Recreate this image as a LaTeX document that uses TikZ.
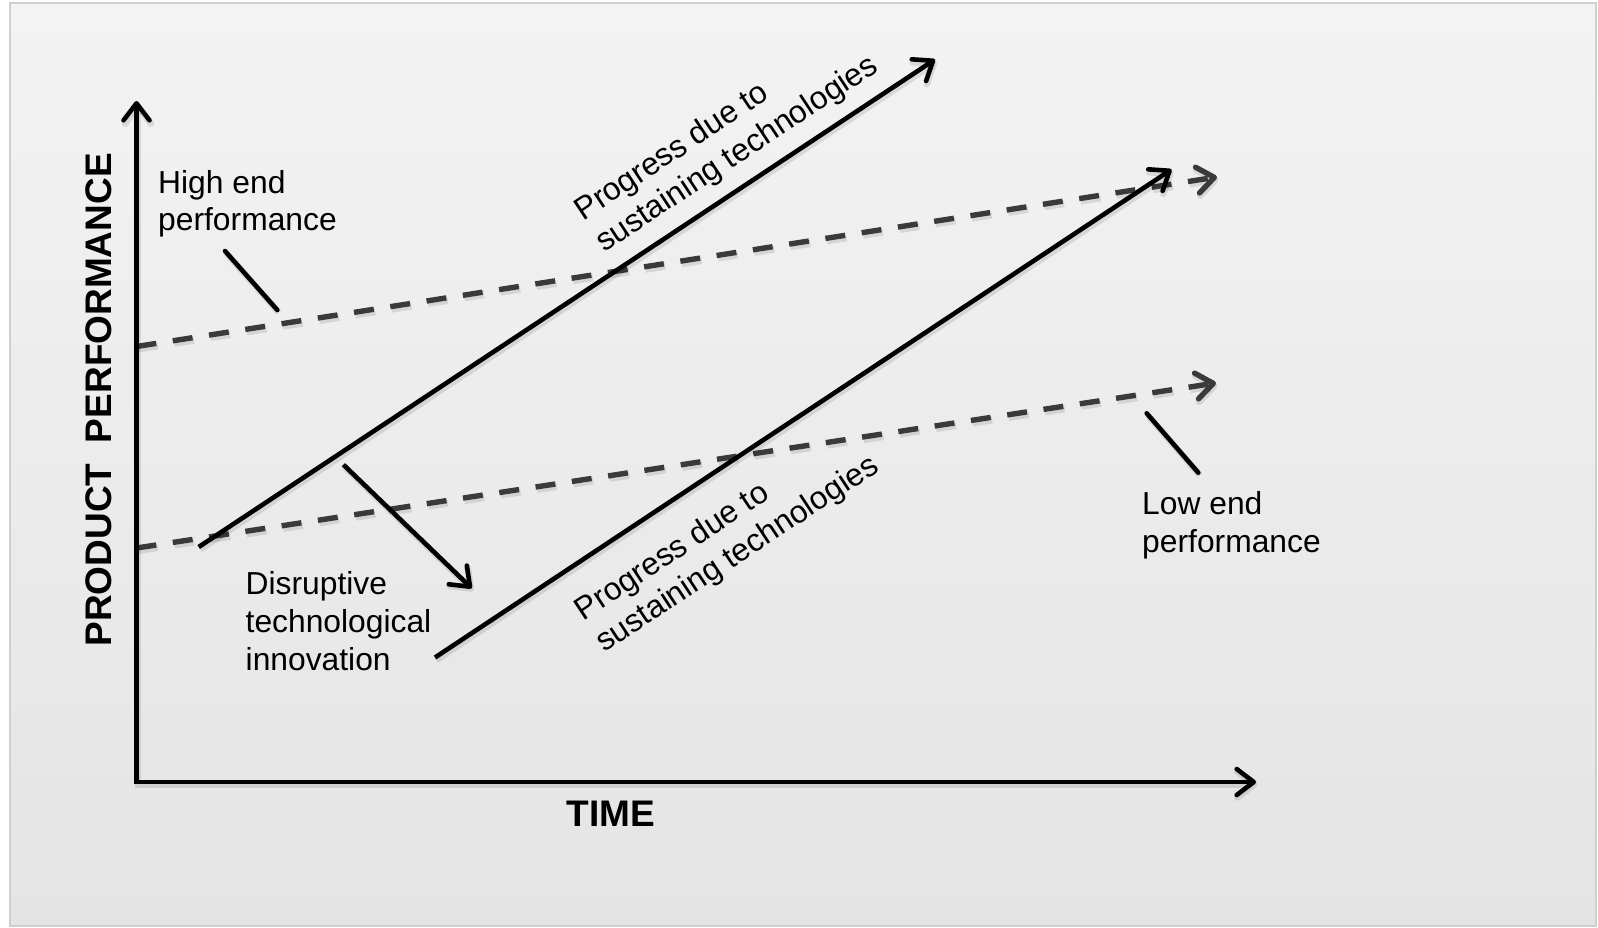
\documentclass[tikz,border=0pt]{standalone}
\usepackage{fontspec}
\setmainfont{Liberation Sans}
\usetikzlibrary{arrows.meta}
\definecolor{panelTop}{HTML}{F3F3F3}
\definecolor{panelBottom}{HTML}{E4E4E4}
\definecolor{panelEdge}{HTML}{CFCFCF}
\definecolor{dashGray}{HTML}{3A3A3A}
\begin{document}
\begin{tikzpicture}[x=1pt,y=-1pt,
  barb/.style={-{Straight Barb[length=17pt,width=26pt,line cap=round,line join=round]}},
  soft shadow/.style={preaction={draw=black,opacity=0.1,line width=6.5pt,transform canvas={shift={(1.5pt,-2.5pt)}}}},
  dash shadow/.style={preaction={draw=black,opacity=0.1,line width=7pt,dash pattern=on 20pt off 16.7pt,transform canvas={shift={(1.5pt,-2.5pt)}}}},
  axisline/.style={line width=4.6pt,black,line join=miter,soft shadow},
  trend/.style={line width=4.6pt,black,barb,soft shadow},
  market/.style={line width=5.4pt,dashGray,dash pattern=on 20pt off 16.7pt,barb,dash shadow},
  pointer/.style={line width=4.6pt,black,line cap=round,soft shadow},
  label/.style={font=\fontsize{31.8}{37.6}\selectfont,align=left,inner sep=0pt,anchor=base west},
  axislabel/.style={font=\fontsize{37}{44}\selectfont\bfseries,inner sep=0pt}
]
\useasboundingbox (0,0) rectangle (1598,927);
\fill[white] (0,0) rectangle (1598,927);
% panel
\shade[top color=panelTop,bottom color=panelBottom] (10,3) rectangle (1596,926);
\draw[panelEdge,line width=1.2pt] (10,3) rectangle (1596,926);

% key points
\coordinate (O) at (136.5,782);
\coordinate (ytip) at (136.5,101);
\coordinate (xtip) at (1256,782);
\coordinate (s1a) at (198.7,547);
\coordinate (s1b) at (935,59.5);
\coordinate (s2a) at (435,657.5);
\coordinate (s2b) at (1171.5,169.5);
\coordinate (hiA) at (136.5,346.5);
\coordinate (hiB) at (1217,177);
\coordinate (loA) at (136.5,548);
\coordinate (loB) at (1216,383);
\coordinate (jumpA) at (343.4,464.7);
\coordinate (jumpB) at (471.7,588.3);
\coordinate (hpA) at (225,251);
\coordinate (hpB) at (277.3,310);
\coordinate (lpA) at (1146.7,413.3);
\coordinate (lpB) at (1198.3,472.7);

% performance demanded by the market
\draw[market] (hiA) -- (hiB);
\draw[market] (loA) -- (loB);

% technology trajectories
\draw[trend] (s1a) -- (s1b);
\draw[trend] (s2a) -- (s2b);
\draw[trend] (jumpA) -- (jumpB);

% label pointers
\draw[pointer] (hpA) -- (hpB);
\draw[pointer] (lpA) -- (lpB);

% axes
\draw[axisline,{Straight Barb[length=17pt,width=26pt,line cap=round,line join=round]}-{Straight Barb[length=17pt,width=26pt,line cap=round,line join=round]}] (ytip) -- (O) -- (xtip);

% texts (anchored at the baseline of the last line)
\node[axislabel,rotate=90] (ylab) at (98.3,399.8) {PRODUCT\ \ PERFORMANCE};
\node[axislabel] (xlab) at (611,813.7) {TIME};
\node[label] (high) at (158,230.7) {High end\\performance};
\node[label] (low) at (1142,552) {Low end\\performance};
\node[label] (disr) at (245.5,670) {Disruptive\\technological\\innovation};
\node[label,rotate=33.5] (prog1) at (604,253) {Progress due to\\sustaining technologies};
\node[label,rotate=33.5] (prog2) at (604.5,653) {Progress due to\\sustaining technologies};
\end{tikzpicture}
\end{document}
